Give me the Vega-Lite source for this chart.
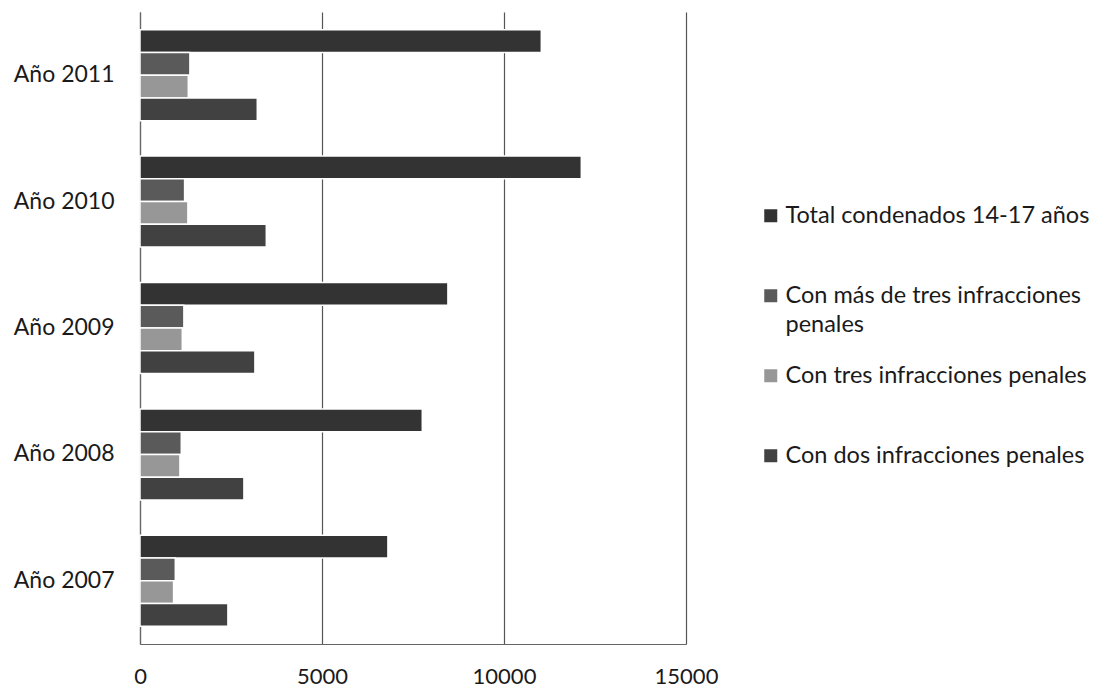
{
  "$schema": "https://vega.github.io/schema/vega-lite/v6.json",
  "autosize": {"type": "none"},
  "padding": {"left": 140, "top": 12, "right": 421, "bottom": 46},
  "width": 546,
  "height": 632,
  "background": "#ffffff",
  "config": {
    "font": "Lato",
    "view": {"stroke": null},
    "axis": {"labelFont": "Lato", "labelColor": "#1a1a1a"},
    "legend": {"labelFont": "Lato", "labelColor": "#1a1a1a"},
    "style": {"guide-label": {"lineHeight": 29}}
  },
  "data": {
    "values": [
      {"year": "Año 2011", "serie": "Total condenados 14-17 años", "valor": 11025},
      {"year": "Año 2011", "serie": "Con más de tres infracciones penales", "valor": 1371},
      {"year": "Año 2011", "serie": "Con tres infracciones penales", "valor": 1327},
      {"year": "Año 2011", "serie": "Con dos infracciones penales", "valor": 3222},
      {"year": "Año 2010", "serie": "Total condenados 14-17 años", "valor": 12124},
      {"year": "Año 2010", "serie": "Con más de tres infracciones penales", "valor": 1225},
      {"year": "Año 2010", "serie": "Con tres infracciones penales", "valor": 1316},
      {"year": "Año 2010", "serie": "Con dos infracciones penales", "valor": 3470},
      {"year": "Año 2009", "serie": "Total condenados 14-17 años", "valor": 8459},
      {"year": "Año 2009", "serie": "Con más de tres infracciones penales", "valor": 1206},
      {"year": "Año 2009", "serie": "Con tres infracciones penales", "valor": 1162},
      {"year": "Año 2009", "serie": "Con dos infracciones penales", "valor": 3157},
      {"year": "Año 2008", "serie": "Total condenados 14-17 años", "valor": 7755},
      {"year": "Año 2008", "serie": "Con más de tres infracciones penales", "valor": 1134},
      {"year": "Año 2008", "serie": "Con tres infracciones penales", "valor": 1097},
      {"year": "Año 2008", "serie": "Con dos infracciones penales", "valor": 2855},
      {"year": "Año 2007", "serie": "Total condenados 14-17 años", "valor": 6811},
      {"year": "Año 2007", "serie": "Con más de tres infracciones penales", "valor": 970},
      {"year": "Año 2007", "serie": "Con tres infracciones penales", "valor": 923},
      {"year": "Año 2007", "serie": "Con dos infracciones penales", "valor": 2415}
    ]
  },
  "mark": {"type": "bar", "stroke": "#ffffff", "strokeWidth": 1.5},
  "encoding": {
    "y": {
      "field": "year",
      "type": "nominal",
      "sort": ["Año 2011", "Año 2010", "Año 2009", "Año 2008", "Año 2007"],
      "scale": {"paddingInner": 0.28, "paddingOuter": 0.14},
      "axis": {
        "title": null,
        "ticks": false,
        "labelFontSize": 23,
        "labelPadding": 26,
        "domainColor": "#666666",
        "domainWidth": 1.2
      }
    },
    "yOffset": {
      "field": "serie",
      "type": "nominal",
      "sort": ["Total condenados 14-17 años", "Con más de tres infracciones penales", "Con tres infracciones penales", "Con dos infracciones penales"],
      "scale": {"paddingInner": 0, "paddingOuter": 0}
    },
    "x": {
      "field": "valor",
      "type": "quantitative",
      "scale": {"domain": [0, 15000], "nice": false},
      "axis": {
        "title": null,
        "values": [0, 5000, 10000, 15000],
        "format": "d",
        "ticks": false,
        "labelFlush": false,
        "labelFontSize": 22,
        "labelPadding": 22,
        "domainColor": "#666666",
        "domainWidth": 1.2,
        "grid": true,
        "gridColor": "#555555",
        "gridWidth": 1.2
      }
    },
    "color": {
      "field": "serie",
      "type": "nominal",
      "sort": ["Total condenados 14-17 años", "Con más de tres infracciones penales", "Con tres infracciones penales", "Con dos infracciones penales"],
      "scale": {
        "domain": ["Total condenados 14-17 años", "Con más de tres infracciones penales", "Con tres infracciones penales", "Con dos infracciones penales"],
        "range": ["#333333", "#5a5a5a", "#979797", "#414141"]
      },
      "legend": {
        "title": null,
        "orient": "none",
        "legendX": 619,
        "legendY": 192,
        "padding": 0,
        "symbolType": "square",
        "symbolSize": 169,
        "symbolStrokeWidth": 0,
        "labelFontSize": 23.5,
        "labelLimit": 400,
        "labelOffset": 3,
        "rowPadding": 26,
        "labelExpr": "datum.label == 'Con más de tres infracciones penales' ? ['Con más de tres infracciones', 'penales'] : [datum.label, ' ']",
        "encode": {"labels": {"update": {"lineHeight": {"value": 29}}}}
      }
    }
  }
}
